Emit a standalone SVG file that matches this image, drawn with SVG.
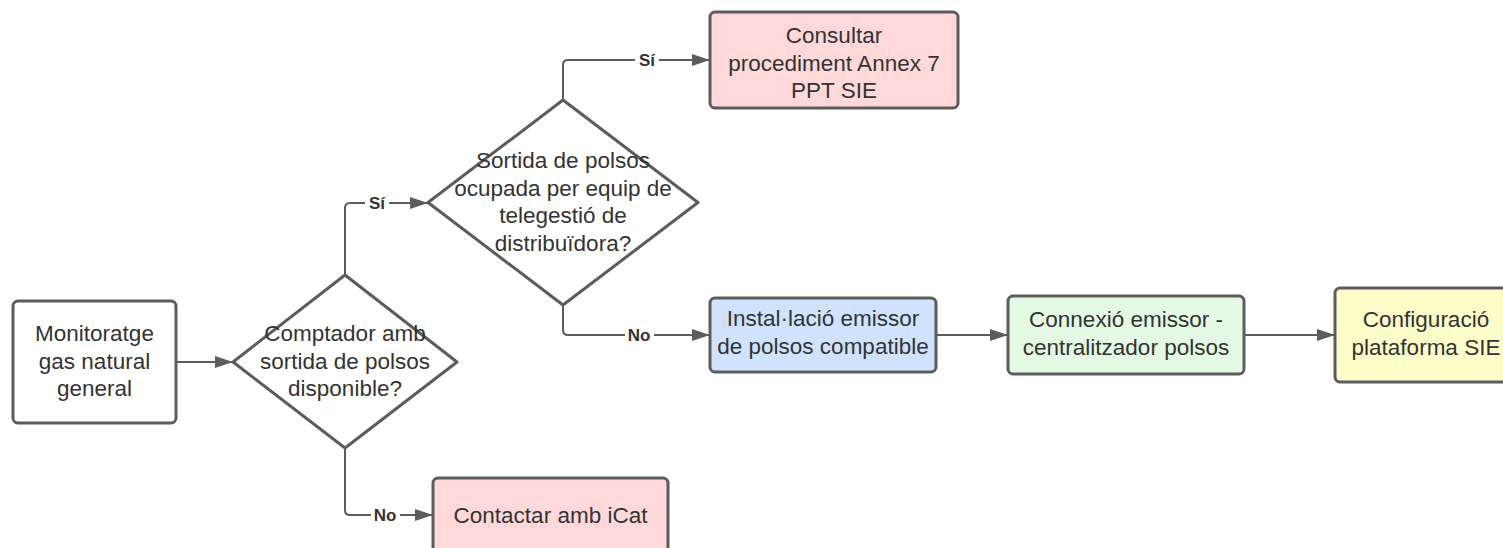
<svg xmlns="http://www.w3.org/2000/svg" width="1503" height="548" viewBox="0 0 1503 548">
  <style>
    .box { stroke: #5c5c5c; stroke-width: 3; }
    .dia { fill: #ffffff; stroke: #5c5c5c; stroke-width: 3; stroke-linejoin: round; }
    .txt { font-family: "Liberation Sans", Arial, sans-serif; font-size: 22.5px; fill: #333333; text-anchor: middle; }
    .conn { fill: none; stroke: #5c5c5c; stroke-width: 2; stroke-linejoin: round; }
    .lbl { font-family: "Liberation Sans", Arial, sans-serif; font-size: 17px; font-weight: bold; fill: #333333; text-anchor: middle; }
    .lblbg { fill: #ffffff; }
  </style>
  <defs>
    <marker id="arrow" markerUnits="userSpaceOnUse" markerWidth="18" markerHeight="14" refX="18" refY="7" orient="auto">
      <path d="M0,1 L18,7 L0,13 Z" fill="#5c5c5c"/>
    </marker>
  </defs>

  <rect width="1503" height="548" fill="#ffffff"/>

  <!-- connectors -->
  <g id="connectors">
    <path class="conn" d="M176,362 H233" marker-end="url(#arrow)"/>
    <path class="conn" d="M345,275 V208 Q345,203 350,203 H428" marker-end="url(#arrow)"/>
    <path class="conn" d="M345,448 V510 Q345,515 350,515 H433" marker-end="url(#arrow)"/>
    <path class="conn" d="M563,100 V65 Q563,60 568,60 H710" marker-end="url(#arrow)"/>
    <path class="conn" d="M563,305 V330 Q563,335 568,335 H710" marker-end="url(#arrow)"/>
    <path class="conn" d="M936,335 H1008" marker-end="url(#arrow)"/>
    <path class="conn" d="M1244,335 H1335" marker-end="url(#arrow)"/>

    <rect class="lblbg" x="365" y="194" width="24" height="18"/>
    <text class="lbl" x="377" y="209">Sí</text>
    <rect class="lblbg" x="371" y="506" width="29" height="18"/>
    <text class="lbl" x="385" y="521">No</text>
    <rect class="lblbg" x="635" y="51" width="24" height="18"/>
    <text class="lbl" x="647" y="66">Sí</text>
    <rect class="lblbg" x="625" y="326" width="29" height="18"/>
    <text class="lbl" x="639" y="341">No</text>
  </g>

  <!-- start -->
  <g id="monitoratge">
    <rect class="box" x="13" y="301" width="163" height="122" rx="5" fill="#ffffff"/>
    <text class="txt" x="94.5" y="341">Monitoratge</text>
    <text class="txt" x="94.5" y="368.5">gas natural</text>
    <text class="txt" x="94.5" y="396">general</text>
  </g>

  <!-- decision: meter pulse output -->
  <g id="comptador">
    <path class="dia" d="M345,275 L457,362 L345,448 L233,362 Z"/>
    <text class="txt" x="345" y="341">Comptador amb</text>
    <text class="txt" x="345" y="368.5">sortida de polsos</text>
    <text class="txt" x="345" y="396">disponible?</text>
  </g>

  <!-- decision: pulse output occupied -->
  <g id="sortida-ocupada">
    <path class="dia" d="M563,100 L698,202.5 L563,305 L428,202.5 Z"/>
    <text class="txt" x="563" y="168">Sortida de polsos</text>
    <text class="txt" x="563" y="195.5">ocupada per equip de</text>
    <text class="txt" x="563" y="223">telegestió de</text>
    <text class="txt" x="563" y="250.5">distribuïdora?</text>
  </g>

  <g id="consultar">
    <rect class="box" x="710" y="12" width="248" height="96" rx="5" fill="#ffd9d9"/>
    <text class="txt" x="834" y="43">Consultar</text>
    <text class="txt" x="834" y="70.5">procediment Annex 7</text>
    <text class="txt" x="834" y="98">PPT SIE</text>
  </g>

  <g id="contactar">
    <rect class="box" x="433" y="478" width="235" height="80" rx="5" fill="#ffd9d9"/>
    <text class="txt" x="550.5" y="523">Contactar amb iCat</text>
  </g>

  <g id="installacio">
    <rect class="box" x="710" y="298" width="226" height="74" rx="5" fill="#cfe3ff"/>
    <text class="txt" x="823" y="326">Instal·lació emissor</text>
    <text class="txt" x="823" y="354">de polsos compatible</text>
  </g>

  <g id="connexio">
    <rect class="box" x="1008" y="296" width="236" height="78" rx="5" fill="#e3f9e3"/>
    <text class="txt" x="1126" y="327">Connexió emissor -</text>
    <text class="txt" x="1126" y="355">centralitzador polsos</text>
  </g>

  <g id="configuracio">
    <rect class="box" x="1335" y="288" width="182" height="94" rx="5" fill="#fdfdc9"/>
    <text class="txt" x="1426" y="327">Configuració</text>
    <text class="txt" x="1426" y="355">plataforma SIE</text>
  </g>
</svg>
